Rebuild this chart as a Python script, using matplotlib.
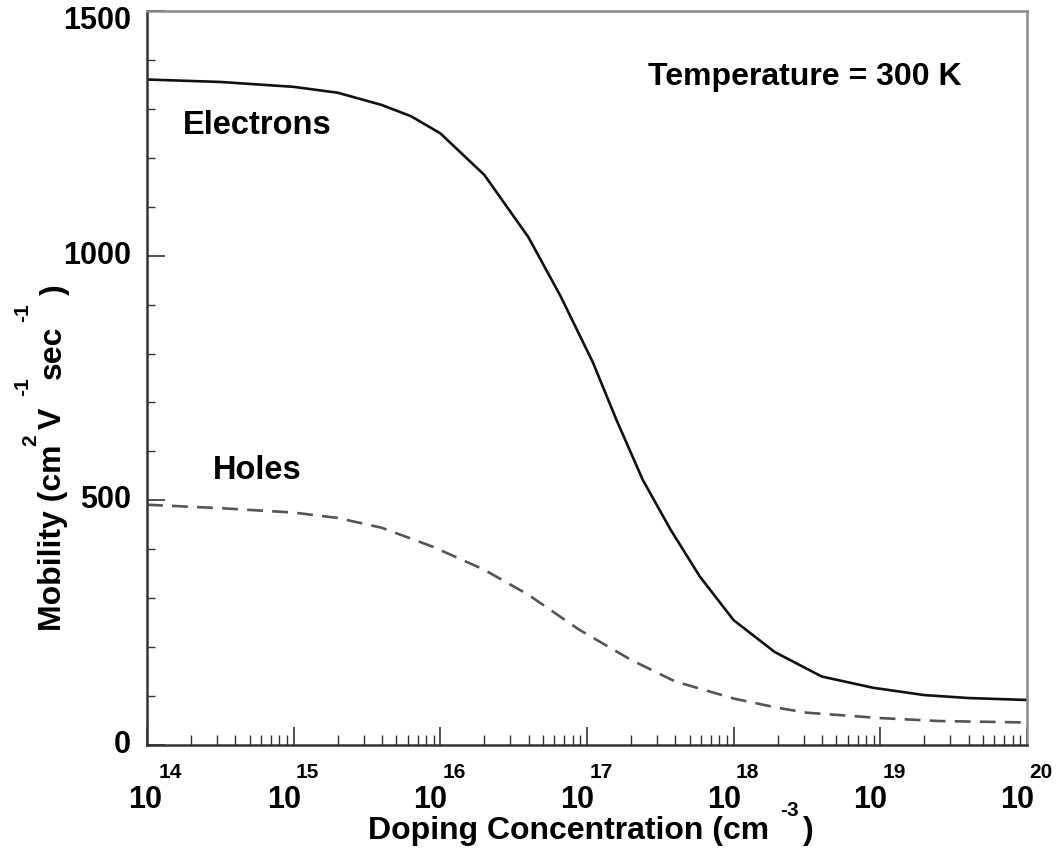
import numpy as np
import matplotlib
matplotlib.use("Agg")
import matplotlib.pyplot as plt
from matplotlib.ticker import LogLocator, MultipleLocator, NullFormatter

plt.rcParams["font.family"] = "Liberation Sans"
plt.rcParams["font.weight"] = "bold"

# doping concentration (log10 cm^-3) and mobility
electron_logN = [14.0, 14.5, 15.0, 15.3, 15.6, 15.8, 16.0, 16.3, 16.6, 16.82, 17.04, 17.2,
                 17.38, 17.57, 17.77, 18.0, 18.28, 18.6, 18.95, 19.3, 19.6, 20.0]
electron_mu = [1360, 1355, 1345, 1333, 1308, 1285, 1250, 1165, 1038, 917, 782, 665,
               542, 440, 344, 255, 190, 140, 117, 102, 96, 92]

hole_logN = [14.0, 14.5, 15.0, 15.3, 15.6, 15.95, 16.3, 16.6, 16.95, 17.3, 17.6, 18.0,
             18.3, 18.5, 19.0, 19.4, 20.0]
hole_mu = [491, 484, 475, 464, 444, 405, 358, 307, 235, 174, 130, 95,
           76, 66, 55, 49, 46]

decades = [14, 15, 16, 17, 18, 19, 20]
y_ticks = [0, 500, 1000, 1500]

fig = plt.figure(figsize=(10.58, 8.52), dpi=100)
ax = fig.add_axes([147 / 1058, 107 / 852, 880 / 1058, 734 / 852])

ax.plot(10 ** np.array(electron_logN), electron_mu, color="#111111", lw=1.9)
ax.plot(10 ** np.array(hole_logN), hole_mu, color="#555555", lw=1.9, dashes=(6, 3.5))

ax.set_xscale("log")
ax.set_xlim(1e14, 1e20)
ax.set_ylim(0, 1500)

ax.xaxis.set_major_locator(LogLocator(base=10, numticks=10))
ax.xaxis.set_minor_locator(LogLocator(base=10, subs=np.arange(2, 10), numticks=20))
ax.xaxis.set_major_formatter(NullFormatter())
ax.xaxis.set_minor_formatter(NullFormatter())
ax.yaxis.set_major_locator(MultipleLocator(500))
ax.yaxis.set_minor_locator(MultipleLocator(100))
ax.yaxis.set_major_formatter(NullFormatter())

ax.tick_params(axis="both", which="major", direction="in", length=13, width=1.2,
               color="#333333", top=False, right=False)
ax.tick_params(axis="both", which="minor", direction="in", length=7.5, width=1.0,
               color="#333333", top=False, right=False)
ax.tick_params(axis="y", which="minor", length=5.5)

for s in ["left", "bottom"]:
    ax.spines[s].set_color("#333333")
    ax.spines[s].set_linewidth(1.8)
for s in ["top", "right"]:
    ax.spines[s].set_color("#8a8a8a")
    ax.spines[s].set_linewidth(1.8)

# x tick labels: big "10" with the exponent raised above it
for i, d in enumerate(decades):
    dx10, dxe = (-2, 23) if i == 0 else (-10, 14)
    ax.annotate("10", xy=(10.0 ** d, 0), xycoords=("data", "axes fraction"),
                xytext=(dx10, -55), textcoords="offset pixels",
                ha="center", va="center", fontsize=22, fontweight="bold")
    ax.annotate(str(d), xy=(10.0 ** d, 0), xycoords=("data", "axes fraction"),
                xytext=(dxe, -27), textcoords="offset pixels",
                ha="center", va="center", fontsize=15, fontweight="bold")

# y tick labels
for v in y_ticks:
    dy = -10 if v == 1500 else 0
    ax.annotate(str(v), xy=(0, v), xycoords=("axes fraction", "data"),
                xytext=(-16, dy), textcoords="offset pixels",
                ha="right", va="center", fontsize=22, fontweight="bold")

# curve labels
ax.text(1.76e14, 1265, "Electrons", fontsize=23.5, fontweight="bold", va="center")
ax.text(2.8e14, 560, "Holes", fontsize=23.5, fontweight="bold", va="center")
ax.text(2.6e17, 1366, "Temperature = 300 K", fontsize=23, fontweight="bold", va="center")

# x axis label with superscript
fig.text(368 / 1058, 1 - 831 / 852, "Doping Concentration (cm", fontsize=23,
         fontweight="bold", ha="left", va="center")
fig.text(789 / 1058, 1 - 811 / 852, "-3", fontsize=15, fontweight="bold",
         ha="center", va="center")
fig.text(803 / 1058, 1 - 831 / 852, ")", fontsize=23, fontweight="bold",
         ha="left", va="center")

# y axis label, pieces rotated
fig.text(53 / 1058, 1 - 538 / 852, "Mobility (cm", fontsize=23, fontweight="bold",
         rotation=90, ha="center", va="center")
fig.text(31 / 1058, 1 - 440 / 852, "2", fontsize=15, fontweight="bold",
         rotation=90, ha="center", va="center")
fig.text(53 / 1058, 1 - 418 / 852, "V", fontsize=23, fontweight="bold",
         rotation=90, ha="center", va="center")
fig.text(23 / 1058, 1 - 387 / 852, "-1", fontsize=15, fontweight="bold",
         rotation=90, ha="center", va="center")
fig.text(53 / 1058, 1 - 352 / 852, "sec", fontsize=23, fontweight="bold",
         rotation=90, ha="center", va="center")
fig.text(23 / 1058, 1 - 313 / 852, "-1", fontsize=15, fontweight="bold",
         rotation=90, ha="center", va="center")
fig.text(55 / 1058, 1 - 290 / 852, ")", fontsize=23, fontweight="bold",
         rotation=90, ha="center", va="center")

fig.savefig("out.png", dpi=100)
